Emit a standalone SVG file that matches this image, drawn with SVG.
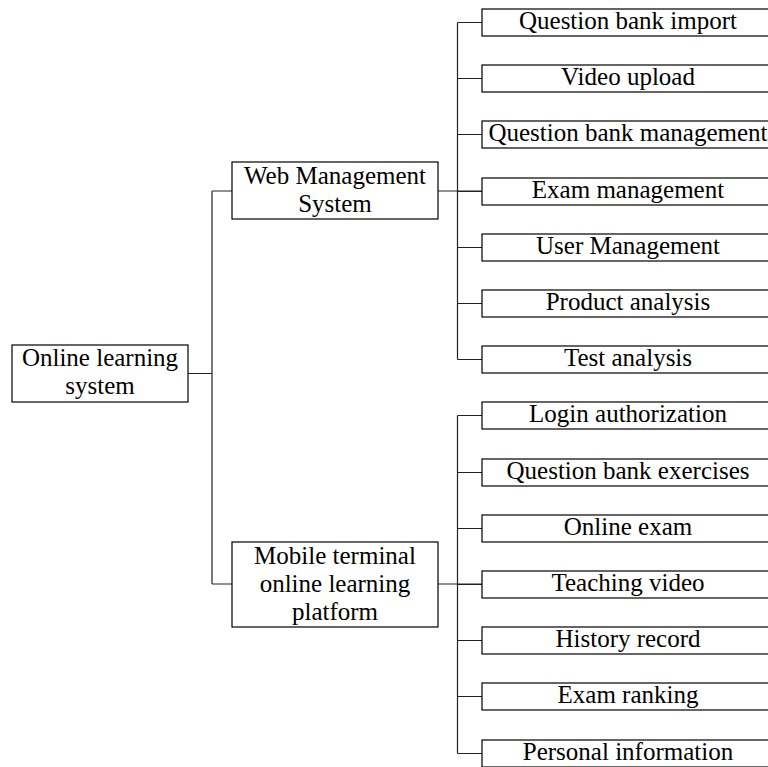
<svg xmlns="http://www.w3.org/2000/svg" width="768" height="767" viewBox="0 0 768 767">
<style>
.box{fill:#fff;stroke:#000;stroke-width:1.2}
.t{font-family:"Liberation Serif","Times New Roman",serif;font-size:25px;fill:#000;text-anchor:middle}
.c{fill:none;stroke:#222;stroke-width:1.2}
</style>
<rect width="768" height="767" fill="#fff"/>
<g id="connectors">
<path class="c" d="M188 373.5H212M212 191V584M212 191H232M212 584H232"/>
<path class="c" d="M438 191H482M457.5 22.5V359.5M457.5 22.5H482M457.5 78.5H482M457.5 134.5H482M457.5 191.5H482M457.5 247.5H482M457.5 303.5H482M457.5 359.5H482"/>
<path class="c" d="M438 584H482M457.5 415.5V753.5M457.5 415.5H482M457.5 472.5H482M457.5 528.5H482M457.5 584.5H482M457.5 640.5H482M457.5 696.5H482M457.5 753.5H482"/>
</g>
<g id="root"><rect class="box" x="12" y="345" width="176" height="57"/><text class="t" x="100" y="366">Online learning</text><text class="t" x="100" y="394">system</text></g>
<g id="web"><rect class="box" x="232" y="162" width="206" height="57"/><text class="t" x="335" y="184">Web Management</text><text class="t" x="335" y="212">System</text></g>
<g id="mobile"><rect class="box" x="232" y="542" width="206" height="85"/><text class="t" x="335" y="564">Mobile terminal</text><text class="t" x="335" y="592">online learning</text><text class="t" x="335" y="620">platform</text></g>
<g id="w1"><rect class="box" x="482" y="9" width="300" height="27"/><text class="t" x="628" y="29">Question bank import</text></g>
<g id="w2"><rect class="box" x="482" y="65" width="300" height="27"/><text class="t" x="628" y="85">Video upload</text></g>
<g id="w3"><rect class="box" x="482" y="121" width="300" height="27"/><text class="t" x="628" y="141">Question bank management</text></g>
<g id="w4"><rect class="box" x="482" y="178" width="300" height="27"/><text class="t" x="628" y="198">Exam management</text></g>
<g id="w5"><rect class="box" x="482" y="234" width="300" height="27"/><text class="t" x="628" y="254">User Management</text></g>
<g id="w6"><rect class="box" x="482" y="290" width="300" height="27"/><text class="t" x="628" y="310">Product analysis</text></g>
<g id="w7"><rect class="box" x="482" y="346" width="300" height="27"/><text class="t" x="628" y="366">Test analysis</text></g>
<g id="m1"><rect class="box" x="482" y="402" width="300" height="27"/><text class="t" x="628" y="422">Login authorization</text></g>
<g id="m2"><rect class="box" x="482" y="459" width="300" height="27"/><text class="t" x="628" y="479">Question bank exercises</text></g>
<g id="m3"><rect class="box" x="482" y="515" width="300" height="27"/><text class="t" x="628" y="535">Online exam</text></g>
<g id="m4"><rect class="box" x="482" y="571" width="300" height="27"/><text class="t" x="628" y="591">Teaching video</text></g>
<g id="m5"><rect class="box" x="482" y="627" width="300" height="27"/><text class="t" x="628" y="647">History record</text></g>
<g id="m6"><rect class="box" x="482" y="683" width="300" height="27"/><text class="t" x="628" y="703">Exam ranking</text></g>
<g id="m7"><rect class="box" x="482" y="740" width="300" height="27"/><text class="t" x="628" y="760">Personal information</text></g>
</svg>
